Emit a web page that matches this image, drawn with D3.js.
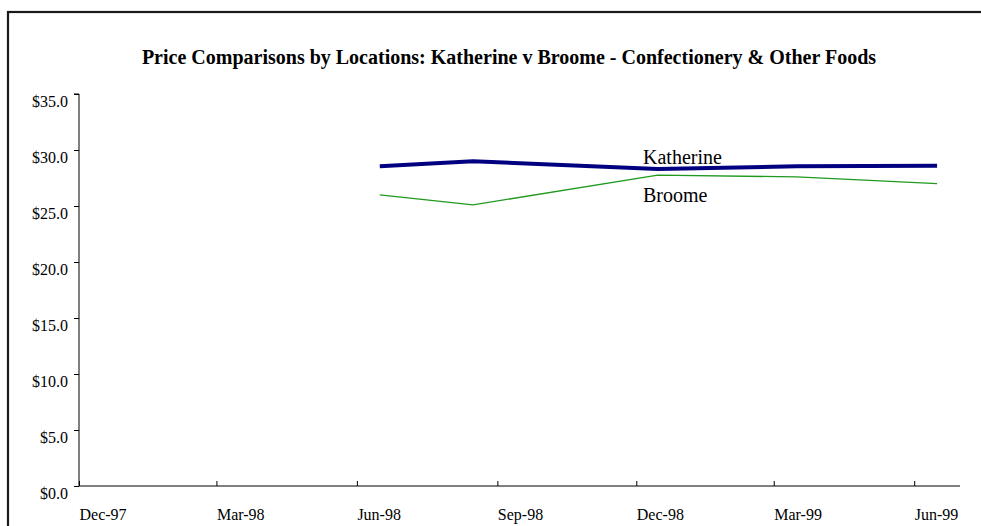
<!DOCTYPE html>
<html>
<head>
<meta charset="utf-8">
<script src="https://cdn.jsdelivr.net/npm/d3@7/dist/d3.min.js"></script>
<style>
  html, body { margin: 0; padding: 0; background: #fff; }
  svg { display: block; font-family: "Liberation Serif", "Times New Roman", serif; }
</style>
</head>
<body>
<svg id="chart" width="981" height="526"></svg>
<script>
// Survey dates (mid-month collection points)
const dates = ["1998-06-16", "1998-08-16", "1998-12-15", "1999-03-16", "1999-06-16"];
// Basket prices ($) for Confectionery & Other Foods
const katherine = [28.55, 29.0, 28.3, 28.55, 28.6];
const broome = [26.0, 25.1, 27.75, 27.6, 27.0];
// Axis labels
const xTickLabels = ["Dec-97", "Mar-98", "Jun-98", "Sep-98", "Dec-98", "Mar-99", "Jun-99"];
const xTickDates = ["1997-12-01", "1998-03-01", "1998-06-01", "1998-09-01", "1998-12-01", "1999-03-01", "1999-06-01"];
const yTicks = [0, 5, 10, 15, 20, 25, 30, 35];

const parse = d3.timeParse("%Y-%m-%d");
const svg = d3.select("#chart");

// Outer chart frame
svg.append("rect")
  .attr("x", 8).attr("y", 12)
  .attr("width", 990).attr("height", 540)
  .attr("fill", "none").attr("stroke", "#1a1a1a").attr("stroke-width", 2.2);

const plotLeft = 79, plotRight = 960, plotTop = 94, plotBottom = 486;

const x = d3.scaleTime()
  .domain([parse("1997-12-01"), parse("1999-07-01")])
  .range([plotLeft, plotRight]);
const y = d3.scaleLinear().domain([0, 35]).range([plotBottom, plotTop]);

// Title
svg.append("text")
  .attr("x", 509).attr("y", 64)
  .attr("text-anchor", "middle")
  .attr("font-weight", "bold")
  .attr("font-size", 20)
  .text("Price Comparisons by Locations: Katherine v Broome - Confectionery & Other Foods");

// Y axis
const yAxis = d3.axisLeft(y)
  .tickValues(yTicks)
  .tickSize(5)
  .tickPadding(6)
  .tickFormat(d => "$" + d.toFixed(1));
const gy = svg.append("g").attr("transform", `translate(${plotLeft},0)`).call(yAxis);
gy.select(".domain").attr("stroke", "#000").attr("d", `M-5,${plotTop}H0V${plotBottom}`);
gy.selectAll(".tick line").attr("stroke", "#000");
gy.selectAll(".tick text")
  .attr("font-size", 16).attr("font-family", "Liberation Serif, serif").attr("fill", "#000")
  .attr("dy", 12);

// X axis
const xAxis = d3.axisBottom(x)
  .tickValues(xTickDates.map(parse))
  .tickSize(5)
  .tickFormat((d, i) => xTickLabels[i]);
const gx = svg.append("g").attr("transform", `translate(0,${plotBottom})`).call(xAxis);
gx.select(".domain").attr("stroke", "#000").attr("d", `M${plotLeft},0H${plotRight}`);
gx.selectAll(".tick line").attr("stroke", "#000").attr("y1", -5).attr("y2", 0);
gx.selectAll(".tick text")
  .attr("font-size", 16).attr("font-family", "Liberation Serif, serif").attr("fill", "#000")
  .attr("text-anchor", "start").attr("dy", null).attr("y", 34);

// Series lines
const line = d3.line()
  .x((d, i) => x(parse(dates[i])))
  .y(d => y(d));

svg.append("path")
  .datum(broome)
  .attr("d", line)
  .attr("fill", "none")
  .attr("stroke", "#1f9a1f")
  .attr("stroke-width", 1.3);

svg.append("path")
  .datum(katherine)
  .attr("d", line)
  .attr("fill", "none")
  .attr("stroke", "#000080")
  .attr("stroke-width", 4);

// Series labels
svg.append("text")
  .attr("x", 643).attr("y", 164)
  .attr("font-size", 20)
  .text("Katherine");
svg.append("text")
  .attr("x", 643).attr("y", 202)
  .attr("font-size", 20)
  .text("Broome");
</script>
</body>
</html>
